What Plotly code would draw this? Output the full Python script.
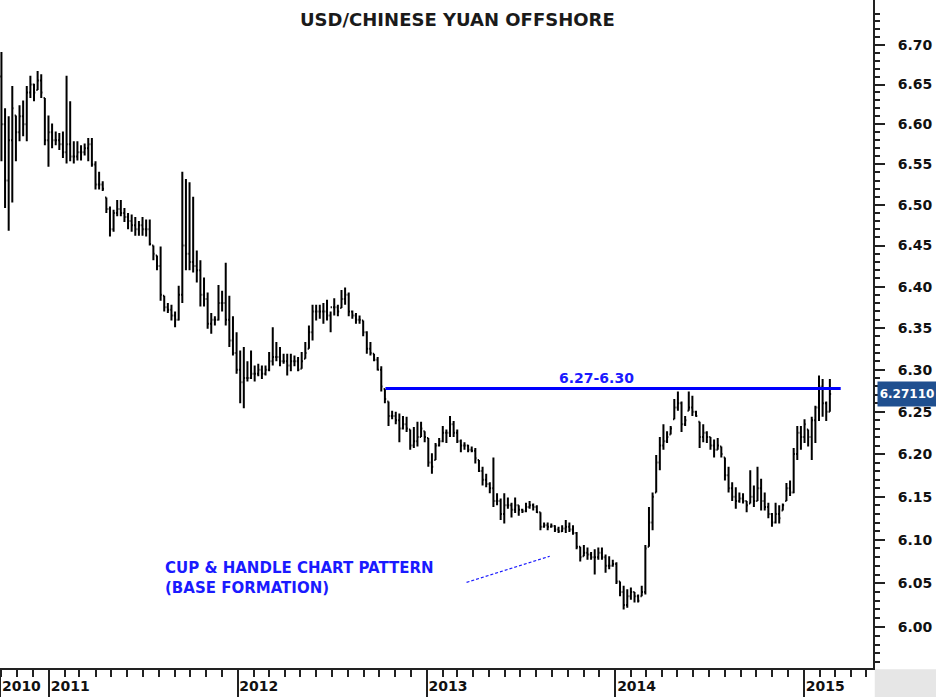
import math
import pandas as pd
import plotly.graph_objects as go

TITLE = "USD/CHINESE YUAN OFFSHORE"
FIRST_WEEK = "2010-10-01"
FIRST_OPEN = 6.66

HIGH = [6.691, 6.620, 6.610, 6.648, 6.611, 6.624, 6.630, 6.648, 6.661, 6.651,
        6.667, 6.663, 6.633, 6.611, 6.601, 6.591, 6.589, 6.591, 6.661, 6.629,
        6.579, 6.579, 6.574, 6.576, 6.583, 6.583, 6.554, 6.541, 6.529, 6.509,
        6.498, 6.494, 6.506, 6.506, 6.496, 6.490, 6.488, 6.485, 6.480, 6.485,
        6.482, 6.482, 6.450, 6.438, 6.449, 6.389, 6.380, 6.378, 6.370, 6.401,
        6.541, 6.532, 6.528, 6.510, 6.444, 6.432, 6.411, 6.393, 6.368, 6.364,
        6.402, 6.395, 6.429, 6.389, 6.364, 6.345, 6.323, 6.327, 6.310, 6.323,
        6.305, 6.307, 6.305, 6.305, 6.321, 6.351, 6.333, 6.327, 6.319, 6.319,
        6.319, 6.317, 6.315, 6.321, 6.333, 6.353, 6.378, 6.378, 6.378, 6.380,
        6.384, 6.370, 6.386, 6.378, 6.396, 6.399, 6.393, 6.371, 6.368, 6.365,
        6.359, 6.346, 6.333, 6.319, 6.315, 6.304, 6.277, 6.262, 6.251, 6.250,
        6.248, 6.245, 6.244, 6.229, 6.232, 6.238, 6.238, 6.227, 6.219, 6.201,
        6.213, 6.219, 6.233, 6.229, 6.245, 6.239, 6.229, 6.217, 6.214, 6.211,
        6.209, 6.207, 6.193, 6.185, 6.177, 6.167, 6.196, 6.154, 6.148, 6.154,
        6.149, 6.143, 6.149, 6.140, 6.136, 6.143, 6.145, 6.142, 6.140, 6.132,
        6.120, 6.120, 6.119, 6.117, 6.115, 6.117, 6.123, 6.120, 6.117, 6.109,
        6.092, 6.094, 6.091, 6.086, 6.089, 6.091, 6.091, 6.083, 6.081, 6.077,
        6.074, 6.052, 6.047, 6.043, 6.045, 6.040, 6.037, 6.047, 6.094, 6.138,
        6.155, 6.199, 6.220, 6.235, 6.227, 6.233, 6.265, 6.274, 6.262, 6.245,
        6.274, 6.269, 6.251, 6.238, 6.235, 6.227, 6.220, 6.217, 6.219, 6.209,
        6.196, 6.185, 6.167, 6.161, 6.155, 6.154, 6.145, 6.181, 6.163, 6.185,
        6.171, 6.155, 6.143, 6.131, 6.143, 6.140, 6.142, 6.166, 6.169, 6.207,
        6.233, 6.233, 6.241, 6.229, 6.244, 6.257, 6.293, 6.289, 6.262, 6.289]

LOW = [6.554, 6.496, 6.468, 6.503, 6.554, 6.579, 6.585, 6.579, 6.633, 6.629,
       6.643, 6.633, 6.574, 6.547, 6.570, 6.574, 6.568, 6.558, 6.551, 6.554,
       6.551, 6.555, 6.555, 6.561, 6.554, 6.547, 6.519, 6.519, 6.517, 6.490,
       6.461, 6.467, 6.486, 6.486, 6.479, 6.470, 6.467, 6.462, 6.462, 6.462,
       6.461, 6.450, 6.432, 6.420, 6.383, 6.370, 6.368, 6.359, 6.351, 6.359,
       6.380, 6.420, 6.420, 6.417, 6.405, 6.376, 6.376, 6.349, 6.343, 6.353,
       6.359, 6.370, 6.353, 6.327, 6.317, 6.295, 6.260, 6.254, 6.286, 6.289,
       6.286, 6.292, 6.289, 6.293, 6.298, 6.305, 6.310, 6.304, 6.307, 6.293,
       6.298, 6.304, 6.298, 6.301, 6.313, 6.325, 6.335, 6.359, 6.361, 6.355,
       6.359, 6.345, 6.365, 6.364, 6.374, 6.378, 6.364, 6.361, 6.355, 6.355,
       6.340, 6.319, 6.317, 6.310, 6.299, 6.274, 6.260, 6.233, 6.241, 6.235,
       6.214, 6.229, 6.226, 6.205, 6.207, 6.209, 6.220, 6.214, 6.185, 6.177,
       6.193, 6.209, 6.214, 6.213, 6.220, 6.220, 6.213, 6.202, 6.205, 6.202,
       6.202, 6.189, 6.179, 6.163, 6.161, 6.154, 6.138, 6.140, 6.123, 6.119,
       6.136, 6.126, 6.131, 6.128, 6.131, 6.132, 6.136, 6.134, 6.131, 6.111,
       6.114, 6.111, 6.114, 6.109, 6.108, 6.109, 6.108, 6.109, 6.106, 6.089,
       6.075, 6.081, 6.077, 6.077, 6.060, 6.077, 6.077, 6.062, 6.066, 6.069,
       6.049, 6.035, 6.020, 6.022, 6.031, 6.028, 6.028, 6.035, 6.037, 6.092,
       6.111, 6.155, 6.181, 6.205, 6.213, 6.223, 6.241, 6.251, 6.226, 6.233,
       6.251, 6.245, 6.244, 6.207, 6.214, 6.213, 6.205, 6.196, 6.205, 6.196,
       6.169, 6.155, 6.145, 6.136, 6.143, 6.142, 6.132, 6.142, 6.138, 6.145,
       6.134, 6.134, 6.125, 6.115, 6.119, 6.119, 6.134, 6.145, 6.151, 6.154,
       6.193, 6.205, 6.213, 6.209, 6.193, 6.213, 6.239, 6.244, 6.239, 6.250]

CLOSE = [6.60, 6.53, 6.58, 6.62, 6.59, 6.61, 6.60, 6.64, 6.65, 6.64,
         6.655, 6.64, 6.58, 6.59, 6.58, 6.58, 6.575, 6.565, 6.575, 6.56,
         6.56, 6.565, 6.565, 6.57, 6.575, 6.55, 6.525, 6.525, 6.52, 6.495,
         6.47, 6.49, 6.495, 6.49, 6.485, 6.48, 6.475, 6.47, 6.475, 6.47,
         6.47, 6.452, 6.44, 6.425, 6.39, 6.375, 6.372, 6.365, 6.36, 6.39,
         6.45, 6.44, 6.43, 6.425, 6.42, 6.39, 6.385, 6.355, 6.36, 6.36,
         6.38, 6.38, 6.36, 6.335, 6.32, 6.30, 6.285, 6.29, 6.29, 6.295,
         6.295, 6.30, 6.295, 6.30, 6.31, 6.315, 6.315, 6.31, 6.31, 6.305,
         6.31, 6.31, 6.30, 6.31, 6.32, 6.345, 6.37, 6.37, 6.37, 6.37,
         6.365, 6.375, 6.375, 6.37, 6.385, 6.39, 6.37, 6.365, 6.36, 6.36,
         6.345, 6.325, 6.32, 6.312, 6.30, 6.28, 6.265, 6.245, 6.245, 6.24,
         6.23, 6.235, 6.23, 6.21, 6.215, 6.22, 6.23, 6.22, 6.19, 6.185,
         6.21, 6.215, 6.225, 6.225, 6.235, 6.225, 6.215, 6.21, 6.21, 6.205,
         6.204, 6.195, 6.18, 6.17, 6.165, 6.16, 6.145, 6.145, 6.13, 6.14,
         6.14, 6.135, 6.14, 6.135, 6.133, 6.138, 6.14, 6.138, 6.132, 6.115,
         6.117, 6.115, 6.116, 6.112, 6.11, 6.113, 6.115, 6.112, 6.108, 6.092,
         6.08, 6.085, 6.083, 6.08, 6.08, 6.085, 6.08, 6.07, 6.07, 6.072,
         6.052, 6.04, 6.025, 6.035, 6.04, 6.035, 6.03, 6.04, 6.09, 6.12,
         6.15, 6.19, 6.21, 6.215, 6.22, 6.23, 6.255, 6.26, 6.235, 6.24,
         6.255, 6.25, 6.245, 6.22, 6.225, 6.22, 6.21, 6.205, 6.21, 6.20,
         6.175, 6.16, 6.15, 6.145, 6.148, 6.145, 6.14, 6.15, 6.145, 6.16,
         6.145, 6.138, 6.13, 6.12, 6.13, 6.125, 6.14, 6.16, 6.155, 6.20,
         6.225, 6.22, 6.235, 6.22, 6.24, 6.255, 6.28, 6.26, 6.25, 6.2711]

LAST_PRICE_LABEL = "6.27110"
RESISTANCE_LEVEL = 6.2775
RESISTANCE_START = "2012-10-13"
RESISTANCE_END = "2015-03-13"
RESISTANCE_LABEL = "6.27-6.30"
RESISTANCE_LABEL_DATE = "2013-11-26"
PATTERN_TEXT = "CUP &amp; HANDLE CHART PATTERN<br>(BASE FORMATION)"
POINTER_DATES = ["2013-03-19", "2013-08-27"]
POINTER_PRICES = [6.051, 6.081]

X_RANGE = ["2010-09-28 05:00", "2015-05-14 12:00"]
Y_RANGE = [0.774774, 0.829781]  # log10 of 5.953 .. 6.7575
YEAR_TICKS = ["2010-09-28 12:00", "2011-01-01", "2012-01-01", "2013-01-01", "2014-01-01", "2015-01-01"]
YEAR_LABELS = ["2010", "2011", "2012", "2013", "2014", "2015"]
Y_TICKS = [6.00, 6.05, 6.10, 6.15, 6.20, 6.25, 6.30, 6.35, 6.40, 6.45, 6.50, 6.55, 6.60, 6.65, 6.70]
Y_LABELS = ["%.2f" % v for v in Y_TICKS]
Y_MINOR = [round(5.96 + 0.01 * k, 2) for k in range(80)]
Y_MINOR = [v for v in Y_MINOR if round(v * 100) % 5 != 0]

dates = pd.date_range(FIRST_WEEK, periods=len(CLOSE), freq="7D")
opens = [FIRST_OPEN] + CLOSE[:-1]
opens = [min(max(o, l), h) for o, l, h in zip(opens, LOW, HIGH)]

FONT = "DejaVu Sans"
BLUE = "#1a1aff"

fig = go.Figure()
fig.add_trace(go.Ohlc(
    x=dates, open=opens, high=HIGH, low=LOW, close=CLOSE,
    increasing=dict(line=dict(color="#000000", width=2)),
    decreasing=dict(line=dict(color="#000000", width=2)),
    tickwidth=0.35, showlegend=False, hoverinfo="skip",
))

fig.update_layout(
    width=936, height=697,
    margin=dict(l=0, r=63, t=0, b=29, autoexpand=False),
    paper_bgcolor="white", plot_bgcolor="white",
    showlegend=False,
    xaxis=dict(
        type="date", range=X_RANGE, rangeslider=dict(visible=False),
        showgrid=False, zeroline=False, automargin=False,
        showline=True, linecolor="#222222", linewidth=2,
        tickmode="array", tickvals=YEAR_TICKS, ticktext=YEAR_LABELS,
        ticks="outside", ticklen=29, tickwidth=1.5, tickcolor="#222222",
        ticklabelposition="outside right", tickangle=0, ticklabelstandoff=4,
        tickfont=dict(family=FONT, size=14, color="#111111", weight="bold"),
        minor=dict(dtick="M1", tick0="2010-01-01", ticks="outside", ticklen=7,
                   tickwidth=1.5, tickcolor="#222222", showgrid=False),
    ),
    yaxis=dict(
        type="log", range=Y_RANGE, side="right",
        showgrid=False, zeroline=False, automargin=False,
        showline=True, linecolor="#222222", linewidth=2,
        tickmode="array", tickvals=Y_TICKS, ticktext=Y_LABELS,
        ticks="outside", ticklen=10, tickwidth=1.5, tickcolor="#222222",
        ticklabelstandoff=10,
        tickfont=dict(family=FONT, size=14, color="#111111", weight="bold"),
        minor=dict(tickmode="array", tickvals=Y_MINOR, ticks="outside", ticklen=5,
                   tickwidth=1.5, tickcolor="#222222", showgrid=False),
    ),
)

# resistance line
fig.add_shape(type="line", xref="x", yref="y",
              x0=RESISTANCE_START, x1=RESISTANCE_END,
              y0=RESISTANCE_LEVEL, y1=RESISTANCE_LEVEL,
              line=dict(color="#0000ff", width=3))
fig.add_annotation(x=RESISTANCE_LABEL_DATE, y=math.log10(RESISTANCE_LEVEL), xref="x", yref="y",
                   text=RESISTANCE_LABEL, showarrow=False, yanchor="bottom", yshift=1,
                   font=dict(family=FONT, size=14, color=BLUE, weight="bold"))

# dashed pointer
fig.add_trace(go.Scatter(x=POINTER_DATES, y=POINTER_PRICES, mode="lines",
                         line=dict(color=BLUE, width=1.2, dash="3px,2px"),
                         showlegend=False, hoverinfo="skip"))

fig.add_annotation(x=163 / 873, y=1 - 557 / 668, xref="paper", yref="paper",
                   text=PATTERN_TEXT, showarrow=False, xanchor="left", yanchor="top",
                   align="left",
                   font=dict(family=FONT, size=15, color=BLUE, weight="bold"))

# title
fig.add_annotation(x=457.5 / 873, y=1 - 19 / 668, xref="paper", yref="paper",
                   text=TITLE, showarrow=False, xanchor="center", yanchor="middle",
                   font=dict(family=FONT, size=18, color="#1a1a1a", weight="bold"))

# last price box
fig.add_annotation(x=1, y=math.log10(CLOSE[-1]), xref="paper", yref="y",
                   text=LAST_PRICE_LABEL, showarrow=False, xanchor="left", yanchor="middle",
                   xshift=4, width=56, height=22, borderpad=1, align="center",
                   bgcolor="#1f4f8f",
                   font=dict(family=FONT, size=12, color="white", weight="bold"))

# bottom-right corner box
fig.add_shape(type="rect", xref="paper", yref="paper",
              x0=1.002, x1=1 + 63 / 873, y0=-29 / 668, y1=-0.002,
              fillcolor="#e6e6e6", line=dict(width=0), layer="below")

fig.write_html("out.html")
